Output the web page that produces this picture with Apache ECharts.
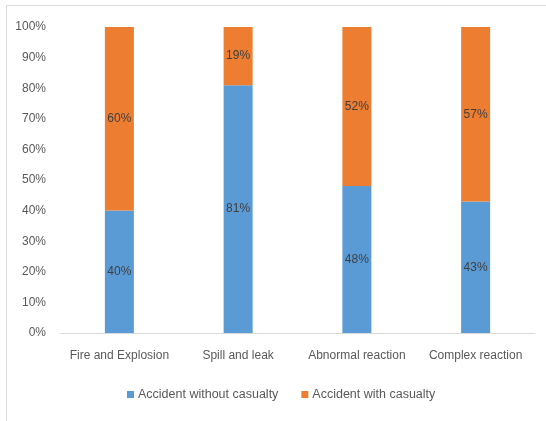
<!DOCTYPE html>
<html>
<head>
<meta charset="utf-8">
<script src="https://cdn.jsdelivr.net/npm/echarts@6/dist/echarts.min.js"></script>
<style>
  html, body { margin: 0; padding: 0; background: #fff; }
  #chart { width: 546px; height: 421px; }
</style>
</head>
<body>
<div id="chart"></div>
<script>
// Accident categories and share of each outcome (%)
const categories = ['Fire and Explosion', 'Spill and leak', 'Abnormal reaction', 'Complex reaction'];
const withoutCasualty = [40, 81, 48, 43];
const withCasualty = [60, 19, 52, 57];
const seriesNames = ['Accident without casualty', 'Accident with casualty'];

const FONT = '"Liberation Sans", Arial, sans-serif';
const TEXT = '#595959';

const chart = echarts.init(document.getElementById('chart'), null, { renderer: 'canvas' });

function barSeries(name, data, color) {
  return {
    name: name,
    type: 'bar',
    stack: 'total',
    barWidth: 29,
    data: data,
    itemStyle: { color: color },
    label: {
      show: true,
      position: 'inside',
      formatter: p => p.value + '%',
      color: '#404040',
      fontFamily: FONT,
      fontSize: 12
    }
  };
}

chart.setOption({
  animation: false,
  graphic: [{
    type: 'rect',
    shape: { x: 6.5, y: 5.5, width: 560, height: 440 },
    style: { fill: 'none', stroke: '#d9d9d9', lineWidth: 1 },
    silent: true
  }],
  grid: { left: 60, right: 11, top: 27, bottom: 88 },
  legend: {
    data: seriesNames,
    top: 383,
    left: 122,
    icon: 'rect',
    itemWidth: 7,
    itemHeight: 7,
    itemGap: 23,
    textStyle: { color: TEXT, fontFamily: FONT, fontSize: 12.5, padding: [0, 0, 0, -1] }
  },
  xAxis: {
    type: 'category',
    data: categories,
    axisLine: { lineStyle: { color: '#d9d9d9', width: 1 } },
    axisTick: { show: false },
    axisLabel: { color: TEXT, fontFamily: FONT, fontSize: 12, margin: 17, interval: 0 }
  },
  yAxis: {
    type: 'value',
    min: 0,
    max: 100,
    interval: 10,
    axisLine: { show: false },
    axisTick: { show: false },
    splitLine: { show: false },
    axisLabel: { color: TEXT, fontFamily: FONT, fontSize: 12, margin: 14, formatter: '{value}%' }
  },
  series: [
    barSeries(seriesNames[0], withoutCasualty, '#5b9bd5'),
    barSeries(seriesNames[1], withCasualty, '#ed7d31')
  ]
});
</script>
</body>
</html>
